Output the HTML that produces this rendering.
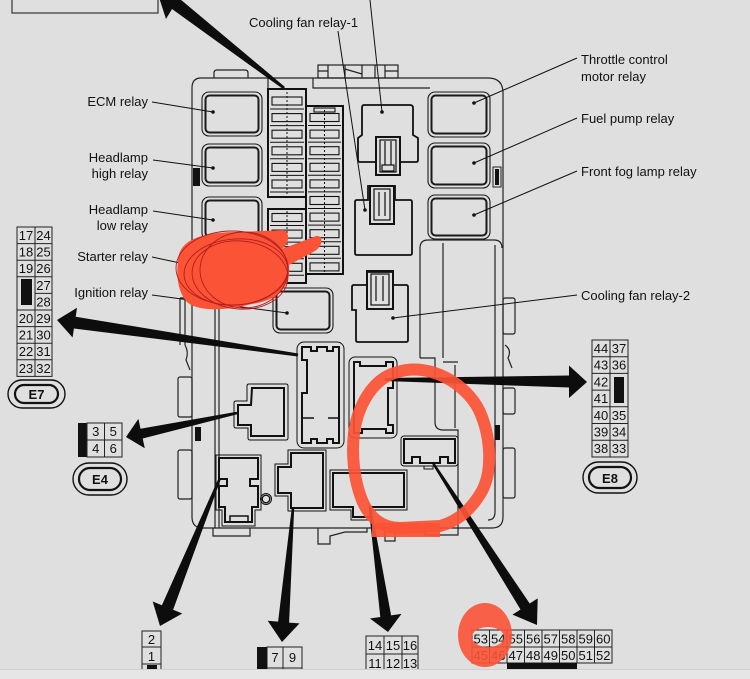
<!DOCTYPE html>
<html><head><meta charset="utf-8"><style>
html,body{margin:0;padding:0;background:#dfdfdf;}
svg{display:block;}
text{font-family:"Liberation Sans",Arial,sans-serif;fill:#111;}
</style></head><body>
<svg width="750" height="679" viewBox="0 0 750 679" xmlns="http://www.w3.org/2000/svg">
<rect width="750" height="679" fill="#dfdfdf"/>

<!-- top-left box -->
<rect x="12" y="-5" width="146" height="18" fill="none" stroke="#333" stroke-width="1.2"/>

<!-- body outline -->
<g fill="none" stroke="#222" stroke-width="1.2">
  <path d="M201,78 H488 Q503,78 503,93 V517 Q503,528 492,528 H203 Q192,528 192,517 V88 Q192,78 201,78 Z"/>
  <path d="M214,78 V73 Q214,70 217,70 H245 Q248,70 248,73 V78"/>
  <rect x="318" y="65" width="80" height="13"/>
  <path d="M328,65 V78 M318,71 H328 M345,65 V78 M345,69 L362,74 M362,65 V78 M375,65 V78 M385,65 V78 M385,71 H398"/>
  <path d="M268,78 V89 M313,78 V88 H430"/>
  <path d="M180,298 V345 M185,298 V345 M180,298 H219 M215,298 V528 M219,298 V528"/>
  <path d="M185,345 Q189,352 186,360 L190,370"/>
  <rect x="178" y="377" width="14" height="40" rx="2"/>
  <rect x="178" y="450" width="14" height="49" rx="2"/>
  <rect x="503" y="298" width="12" height="36" rx="2"/>
  <path d="M505,345 Q512,350 508,358 L512,368"/>
  <rect x="503" y="388" width="12" height="26" rx="2"/>
  <rect x="503" y="448" width="12" height="50" rx="2"/>
  <path d="M495,245 V512 Q495,520 488,520"/>
  <path d="M213,528 V536 H250 V528"/>
  <path d="M318,528 V544 H330 V536 L345,532 H367 V528"/>
  <path d="M385,528 V541 H395 V528"/>
  <path d="M425,528 V535 H458 V528"/>
  <path d="M420,358 V248 Q420,240 428,240 H494 Q502,240 502,248"/>
  <path d="M420,358 H435 V422 Q435,430 443,430 H458 V528"/>
  <path d="M443,243 V358 M443,362 H458 M455,365 V428"/>
</g>
<rect x="193" y="168" width="7" height="18" fill="#111"/>
<rect x="493" y="167" width="8" height="20" fill="none" stroke="#222"/>
<rect x="495" y="169" width="4" height="16" fill="#111"/>
<rect x="195" y="427" width="6" height="14" fill="#111"/>
<rect x="495" y="425" width="5" height="15" fill="#111"/>

<!-- relay boxes -->
<g fill="none" stroke="#1a1a1a">
  <rect x="202" y="92" width="60" height="44" rx="7" stroke-width="1.1"/>
  <rect x="205.5" y="95.5" width="53" height="37" rx="4" stroke-width="2"/>
  <rect x="202" y="144" width="60" height="42" rx="7" stroke-width="1.1"/>
  <rect x="205.5" y="147.5" width="53" height="35" rx="4" stroke-width="2"/>
  <rect x="202" y="197" width="60" height="43" rx="7" stroke-width="1.1"/>
  <rect x="205.5" y="200.5" width="53" height="36" rx="4" stroke-width="2"/>
  <rect x="202" y="248" width="60" height="43" rx="7" stroke-width="1.1"/>
  <rect x="205.5" y="251.5" width="53" height="36" rx="4" stroke-width="2"/>
  <rect x="428" y="92" width="62" height="45" rx="7" stroke-width="1.1"/>
  <rect x="431.5" y="95.5" width="55" height="38" rx="4" stroke-width="2"/>
  <rect x="428" y="143" width="62" height="45" rx="7" stroke-width="1.1"/>
  <rect x="431.5" y="146.5" width="55" height="38" rx="4" stroke-width="2"/>
  <rect x="428" y="195" width="62" height="44" rx="7" stroke-width="1.1"/>
  <rect x="431.5" y="198.5" width="55" height="37" rx="4" stroke-width="2"/>
  <rect x="273" y="288" width="60" height="45" rx="7" stroke-width="1.1"/>
  <rect x="276.5" y="291.5" width="53" height="38" rx="4" stroke-width="2"/>
</g>

<!-- fuse block -->
<g fill="none" stroke="#111">
  <path d="M268,89 H306 V197 H268 Z" stroke-width="2"/>
  <path d="M268,209 H306 V283 H268 Z" stroke-width="2"/>
  <path d="M306,106 H343 V274 H306 Z" stroke-width="2"/>
  <g stroke-width="1.1">
    <rect x="272" y="97" width="30" height="8"/><rect x="272" y="113.6" width="30" height="8"/>
    <rect x="272" y="130.2" width="30" height="8"/><rect x="272" y="146.8" width="30" height="8"/>
    <rect x="272" y="163.4" width="30" height="8"/><rect x="272" y="180" width="30" height="8"/>
    <rect x="272" y="213.5" width="30" height="8"/><rect x="272" y="230.1" width="30" height="8"/>
    <rect x="272" y="246.7" width="30" height="8"/><rect x="272" y="263.3" width="30" height="8"/>
    <rect x="314" y="108" width="21" height="4"/>
    <rect x="310" y="113.5" width="29" height="8"/><rect x="310" y="130.1" width="29" height="8"/>
    <rect x="310" y="146.7" width="29" height="8"/><rect x="310" y="163.3" width="29" height="8"/>
    <rect x="310" y="179.9" width="29" height="8"/><rect x="310" y="196.5" width="29" height="8"/>
    <rect x="310" y="213.1" width="29" height="8"/><rect x="310" y="229.7" width="29" height="8"/>
    <rect x="310" y="246.3" width="29" height="8"/><rect x="310" y="262.9" width="29" height="8"/>
  </g>
  <g stroke-width="1" stroke-dasharray="2 2">
    <path d="M287,92 V195 M287,211 V281 M324.5,110 V272"/>
  </g>
  <g stroke-width="1">
    <path d="M270,109 H304 M270,125.6 H304 M270,142.2 H304 M270,158.8 H304 M270,175.4 H304 M270,192 H304"/>
    <path d="M270,225.5 H304 M270,242.1 H304 M270,258.7 H304 M270,275.3 H304"/>
    <path d="M308,125.5 H341 M308,142.1 H341 M308,158.7 H341 M308,175.3 H341 M308,191.9 H341 M308,208.5 H341 M308,225.1 H341 M308,241.7 H341 M308,258.3 H341"/>
  </g>
</g>

<!-- cooling fan relays -->
<g fill="none" stroke="#111">
  <path d="M364,105 H410 Q413,105 413,108 V135 L418,138 V160 Q418,162 416,162 H360 Q358,162 358,160 V138 L362,135 V108 Q362,105 364,105 Z" stroke-width="1.8"/>
  <rect x="376" y="137" width="24" height="38" stroke-width="2" fill="#dfdfdf"/>
  <rect x="380" y="140" width="16" height="32" stroke-width="1.2"/>
  <path d="M385,141 V165 M391,141 V165" stroke-width="1.2"/>
  <rect x="382" y="165" width="12" height="6" stroke-width="1.2"/>

  <path d="M357,200 H368 V186 H395 V200 H410 Q412,200 412,202 V253 Q412,255 410,255 H357 Q355,255 355,253 V202 Q355,200 357,200 Z" stroke-width="1.8"/>
  <rect x="370" y="186" width="24" height="38" stroke-width="2"/>
  <rect x="374" y="189" width="16" height="31" stroke-width="1.2"/>
  <path d="M379,192 V216 M385,192 V216" stroke-width="1.2"/>

  <path d="M354,285 H367 V272 H393 V285 H406 Q408,285 408,287 V340 Q408,342 406,342 H358 Q356,342 356,340 V310 H352 V287 Q352,285 354,285 Z" stroke-width="1.8"/>
  <rect x="367" y="271" width="26" height="38" stroke-width="2"/>
  <rect x="371" y="274" width="18" height="31" stroke-width="1.2"/>
  <path d="M376,276 V301 M383,276 V301" stroke-width="1.2"/>
</g>

<!-- lower connectors -->
<g fill="none" stroke="#111">
  <rect x="297" y="342" width="47" height="106" rx="7" stroke-width="1"/>
  <path d="M302,347 H311 V351 H317 V347 H327 V351 H333 V347 H339 V443 H333 V439 H327 V443 H317 V439 H311 V443 H302 V393 H307 V360 H302 Z" stroke-width="2"/>
  <path d="M303,418 H314 M328,418 H338" stroke-width="1.5"/>

  <rect x="349" y="357" width="48" height="81" rx="6" stroke-width="1"/>
  <path d="M354,362 H360 V366 H386 V362 H393 V388 H388 V425 H393 V433 H386 V429 H362 V433 H354 Z" stroke-width="2"/>

  <path d="M249,384 H286 Q288,384 288,386 V438 Q288,440 286,440 H250 Q248,440 248,438 V428 H236 Q234,428 234,426 V403 Q234,401 236,401 H247 V386 Q247,384 249,384 Z" stroke-width="1"/>
  <path d="M252,388 H284 V436 H251 V425 H238 V405 H251 Z" stroke-width="2"/>

  <path d="M216,455 H261 V510 H255 V526 H222 V510 H216 Z" stroke-width="1"/>
  <path d="M219,458 H258 V479 H250 V486 H258 V507 H252 V522 H225 V507 H219 V486 H227 V479 H219 Z" stroke-width="2"/>
  <rect x="230" y="516" width="18" height="6" stroke-width="1.5"/>
  <circle cx="266" cy="499" r="5.5" stroke-width="1"/>
  <circle cx="266" cy="499" r="3.8" stroke-width="1.4"/>

  <path d="M288,450 H326 V511 H288 V496 H275 V464 H288 Z" stroke-width="1"/>
  <path d="M291,453 H323 V508 H291 V493 H278 V467 H291 Z" stroke-width="2"/>

  <path d="M330,470 H407 V510 H372 V520 H351 V510 H330 Z" stroke-width="1"/>
  <path d="M333,473 H404 V507 H370 V517 H353 V507 H333 Z" stroke-width="2"/>

  <rect x="401" y="436" width="57" height="30" rx="3" stroke-width="1"/>
  <path d="M404,439 H455 V463 H448 V457 H440 V463 H420 V457 H412 V463 H404 Z" stroke-width="2"/>
  <path d="M424,466 V469 H433 V466" stroke-width="1"/>
</g>

<!-- leader lines -->
<g stroke="#111" stroke-width="1" fill="none">
  <path d="M152,102 L213,112"/>
  <path d="M153,160 L213,168"/>
  <path d="M153,211 L213,220"/>
  <path d="M152,257 L213,270"/>
  <path d="M152,295 L287,313"/>
  <path d="M338,31 L365,210"/>
  <path d="M370,0 L382,112"/>
  <path d="M474,103 L577,58"/>
  <path d="M474,163 L577,118"/>
  <path d="M474,215 L577,171"/>
  <path d="M393,318 L577,295"/>
</g>
<g fill="#111">
  <circle cx="213" cy="112" r="1.8"/><circle cx="213" cy="168" r="1.8"/>
  <circle cx="213" cy="220" r="1.8"/><circle cx="213" cy="270" r="1.8"/>
  <circle cx="287" cy="313" r="1.8"/><circle cx="365" cy="210" r="1.8"/>
  <circle cx="382" cy="112" r="1.8"/><circle cx="474" cy="103" r="1.8"/>
  <circle cx="474" cy="163" r="1.8"/><circle cx="474" cy="215" r="1.8"/>
  <circle cx="393" cy="318" r="1.8"/>
</g>

<!-- labels -->
<g font-size="13">
  <text x="148" y="106" text-anchor="end">ECM relay</text>
  <text x="148" y="162" text-anchor="end">Headlamp</text>
  <text x="148" y="178" text-anchor="end">high relay</text>
  <text x="148" y="214" text-anchor="end">Headlamp</text>
  <text x="148" y="230" text-anchor="end">low relay</text>
  <text x="148" y="261" text-anchor="end">Starter relay</text>
  <text x="148" y="297" text-anchor="end">Ignition relay</text>
  <text x="249" y="27">Cooling fan relay-1</text>
  <text x="581" y="64">Throttle control</text>
  <text x="581" y="81">motor relay</text>
  <text x="581" y="123">Fuel pump relay</text>
  <text x="581" y="176">Front fog lamp relay</text>
  <text x="581" y="300">Cooling fan relay-2</text>
</g>

<!-- big arrows -->
<g fill="#0d0d0d">
  <polygon points="156,-12 187,-11 180,-1 285,87 283,89 172,9 166,19"/>
  <polygon points="298.2,353.5 75.7,316.7 77,307.7 57,320 72.6,337.5 73.9,328.5 297.8,356.5"/>
  <polygon points="236.7,411.8 140.5,428.7 138.4,418.9 126,437 144.8,448.3 142.7,438.5 237.3,414.2"/>
  <polygon points="385,378 569,375.5 569,365.5 587,382 569,398 569,387.5 385,381"/>
  <polygon points="218.9,477.5 161.9,605.2 152.7,601.5 160,626 182.3,613.5 173.1,609.8 221.1,478.5"/>
  <polygon points="291.8,507.9 278.1,621.6 267.7,620.8 282,642 299.5,623.4 289.1,622.6 294.2,508.1"/>
  <polygon points="368.8,508.2 380.3,617 369.9,618.5 388,632 401.5,613.9 391.1,615.4 371.2,507.8"/>
  <polygon points="432,463.6 520.5,609.5 512.5,614.6 537,625 537.7,598.4 529.7,603.5 434,462.4"/>
</g>

<!-- E7 table -->
<g fill="none" stroke="#222" stroke-width="1">
  <rect x="17" y="227" width="35" height="149.4"/>
  <path d="M35,227 V376.4 M17,243.6 H52 M17,260.2 H52 M17,276.8 H52 M35,293.4 H52 M17,310 H52 M17,326.6 H52 M17,343.2 H52 M17,359.8 H52"/>
</g>
<rect x="21" y="279" width="11" height="26" fill="#111"/>
<g font-size="13" text-anchor="middle">
  <text x="26" y="240">17</text><text x="43.5" y="240">24</text>
  <text x="26" y="256.6">18</text><text x="43.5" y="256.6">25</text>
  <text x="26" y="273.2">19</text><text x="43.5" y="273.2">26</text>
  <text x="43.5" y="289.8">27</text><text x="43.5" y="306.4">28</text>
  <text x="26" y="323">20</text><text x="43.5" y="323">29</text>
  <text x="26" y="339.6">21</text><text x="43.5" y="339.6">30</text>
  <text x="26" y="356.2">22</text><text x="43.5" y="356.2">31</text>
  <text x="26" y="372.8">23</text><text x="43.5" y="372.8">32</text>
</g>
<rect x="8" y="380" width="57" height="28" rx="14" fill="none" stroke="#111" stroke-width="1.4"/>
<rect x="15" y="385" width="43" height="18" rx="9" fill="none" stroke="#111" stroke-width="2.2"/>
<text x="36.5" y="399" font-size="13" font-weight="bold" text-anchor="middle">E7</text>

<!-- E4 table -->
<rect x="78" y="423" width="9" height="34" fill="#111"/>
<g fill="none" stroke="#222" stroke-width="1">
  <rect x="87" y="423" width="35" height="34"/>
  <path d="M104.5,423 V457 M87,440 H122"/>
</g>
<g font-size="13" text-anchor="middle">
  <text x="95.75" y="436">3</text><text x="113.25" y="436">5</text>
  <text x="95.75" y="453">4</text><text x="113.25" y="453">6</text>
</g>
<rect x="73" y="463" width="54" height="32" rx="16" fill="none" stroke="#111" stroke-width="1.4"/>
<rect x="79" y="468" width="42" height="22" rx="11" fill="none" stroke="#111" stroke-width="2.2"/>
<text x="100" y="484" font-size="13" font-weight="bold" text-anchor="middle">E4</text>

<!-- E8 table -->
<g fill="none" stroke="#222" stroke-width="1">
  <rect x="592" y="340" width="36" height="117"/>
  <path d="M610,340 V457 M592,356.7 H628 M592,373.4 H628 M592,390.1 H610 M592,406.8 H628 M592,423.5 H628 M592,440.2 H628"/>
</g>
<rect x="614" y="377" width="10" height="26" fill="#111"/>
<g font-size="13" text-anchor="middle">
  <text x="601" y="353">44</text><text x="619" y="353">37</text>
  <text x="601" y="369.7">43</text><text x="619" y="369.7">36</text>
  <text x="601" y="386.4">42</text>
  <text x="601" y="403.1">41</text>
  <text x="601" y="419.8">40</text><text x="619" y="419.8">35</text>
  <text x="601" y="436.5">39</text><text x="619" y="436.5">34</text>
  <text x="601" y="453.2">38</text><text x="619" y="453.2">33</text>
</g>
<rect x="583" y="462" width="54" height="31" rx="15.5" fill="none" stroke="#111" stroke-width="1.4"/>
<rect x="589" y="467" width="42" height="21" rx="10.5" fill="none" stroke="#111" stroke-width="2.2"/>
<text x="610" y="483" font-size="13" font-weight="bold" text-anchor="middle">E8</text>

<!-- bottom tables -->
<g fill="none" stroke="#222" stroke-width="1">
  <rect x="142" y="631" width="19" height="45"/>
  <path d="M142,647 H161 M142,664 H161"/>
  <rect x="267" y="647" width="35" height="30"/>
  <path d="M283,647 V677 M267,668 H302"/>
  <rect x="366" y="636" width="52" height="40"/>
  <path d="M384,636 V676 M402,636 V676 M366,654 H418"/>
  <rect x="472" y="630" width="140" height="33"/>
  <path d="M472,647 H612 M489.5,630 V663 M507,630 V663 M524.5,630 V663 M542,630 V663 M559.5,630 V663 M577,630 V663 M594.5,630 V663"/>
</g>
<rect x="147" y="665" width="10" height="8" fill="#111"/>
<rect x="257" y="647" width="10" height="28" fill="#111"/>
<rect x="507" y="663" width="70" height="8" fill="#111"/>
<g font-size="13" text-anchor="middle">
  <text x="151.5" y="644">2</text><text x="151.5" y="661">1</text>
  <text x="275" y="662">7</text><text x="292.5" y="662">9</text>
  <text x="275" y="681">8</text><text x="292.5" y="681">10</text>
  <text x="375" y="650">14</text><text x="393" y="650">15</text><text x="410" y="650">16</text>
  <text x="375" y="668">11</text><text x="393" y="668">12</text><text x="410" y="668">13</text>
  <text x="480.75" y="643.5">53</text><text x="498.25" y="643.5">54</text><text x="515.75" y="643.5">55</text><text x="533.25" y="643.5">56</text>
  <text x="550.75" y="643.5">57</text><text x="568.25" y="643.5">58</text><text x="585.75" y="643.5">59</text><text x="603.25" y="643.5">60</text>
  <text x="480.75" y="660" fill="#e0472d">45</text><text x="498.25" y="660" fill="#e0472d">46</text><text x="515.75" y="660">47</text><text x="533.25" y="660">48</text>
  <text x="550.75" y="660">49</text><text x="568.25" y="660">50</text><text x="585.75" y="660">51</text><text x="603.25" y="660">52</text>
</g>

<!-- red annotations -->
<path d="M178,262 C178,240 200,232 240,232 L283,230 C291,232 289,244 282,249 L316,236 C324,235 323,246 315,251 L289,265 C291,285 280,300 252,304 C225,311 196,312 186,301 C178,291 176,276 178,262 Z" fill="#fb5336"/>
<g fill="none" stroke="#b51d1d" stroke-width="0.9">
  <ellipse cx="232" cy="268" rx="56" ry="37"/>
  <ellipse cx="236" cy="272" rx="52" ry="33" transform="rotate(-4 236 272)"/>
  <ellipse cx="240" cy="275" rx="48" ry="34" transform="rotate(5 240 275)"/>
  <ellipse cx="244" cy="270" rx="44" ry="38"/>
</g>
<path d="M398,372 C430,362 466,384 479,410 C491,436 493,470 482,491 C470,512 455,522 440,526 L400,528 C380,528 368,515 362,500 C352,475 350,440 358,415 C366,392 380,376 398,372 Z" fill="none" stroke="#fb5336" stroke-width="12" opacity="0.93"/>
<path d="M372,530 L440,530" stroke="#fb5336" stroke-width="14" opacity="0.93"/>
<path fill-rule="evenodd" fill="#fb5336" opacity="0.9"
  d="M458,635 A27,32 0 1,0 512,635 A27,32 0 1,0 458,635 Z M472,637 A16,10 0 1,0 504,637 A16,10 0 1,0 472,637 Z"/>

<!-- bottom band -->
<rect x="0" y="669" width="750" height="10" fill="#e6e6e6"/>
<line x1="0" y1="669.5" x2="750" y2="669.5" stroke="#d0d0d0" stroke-width="1"/>
</svg>
</body></html>
